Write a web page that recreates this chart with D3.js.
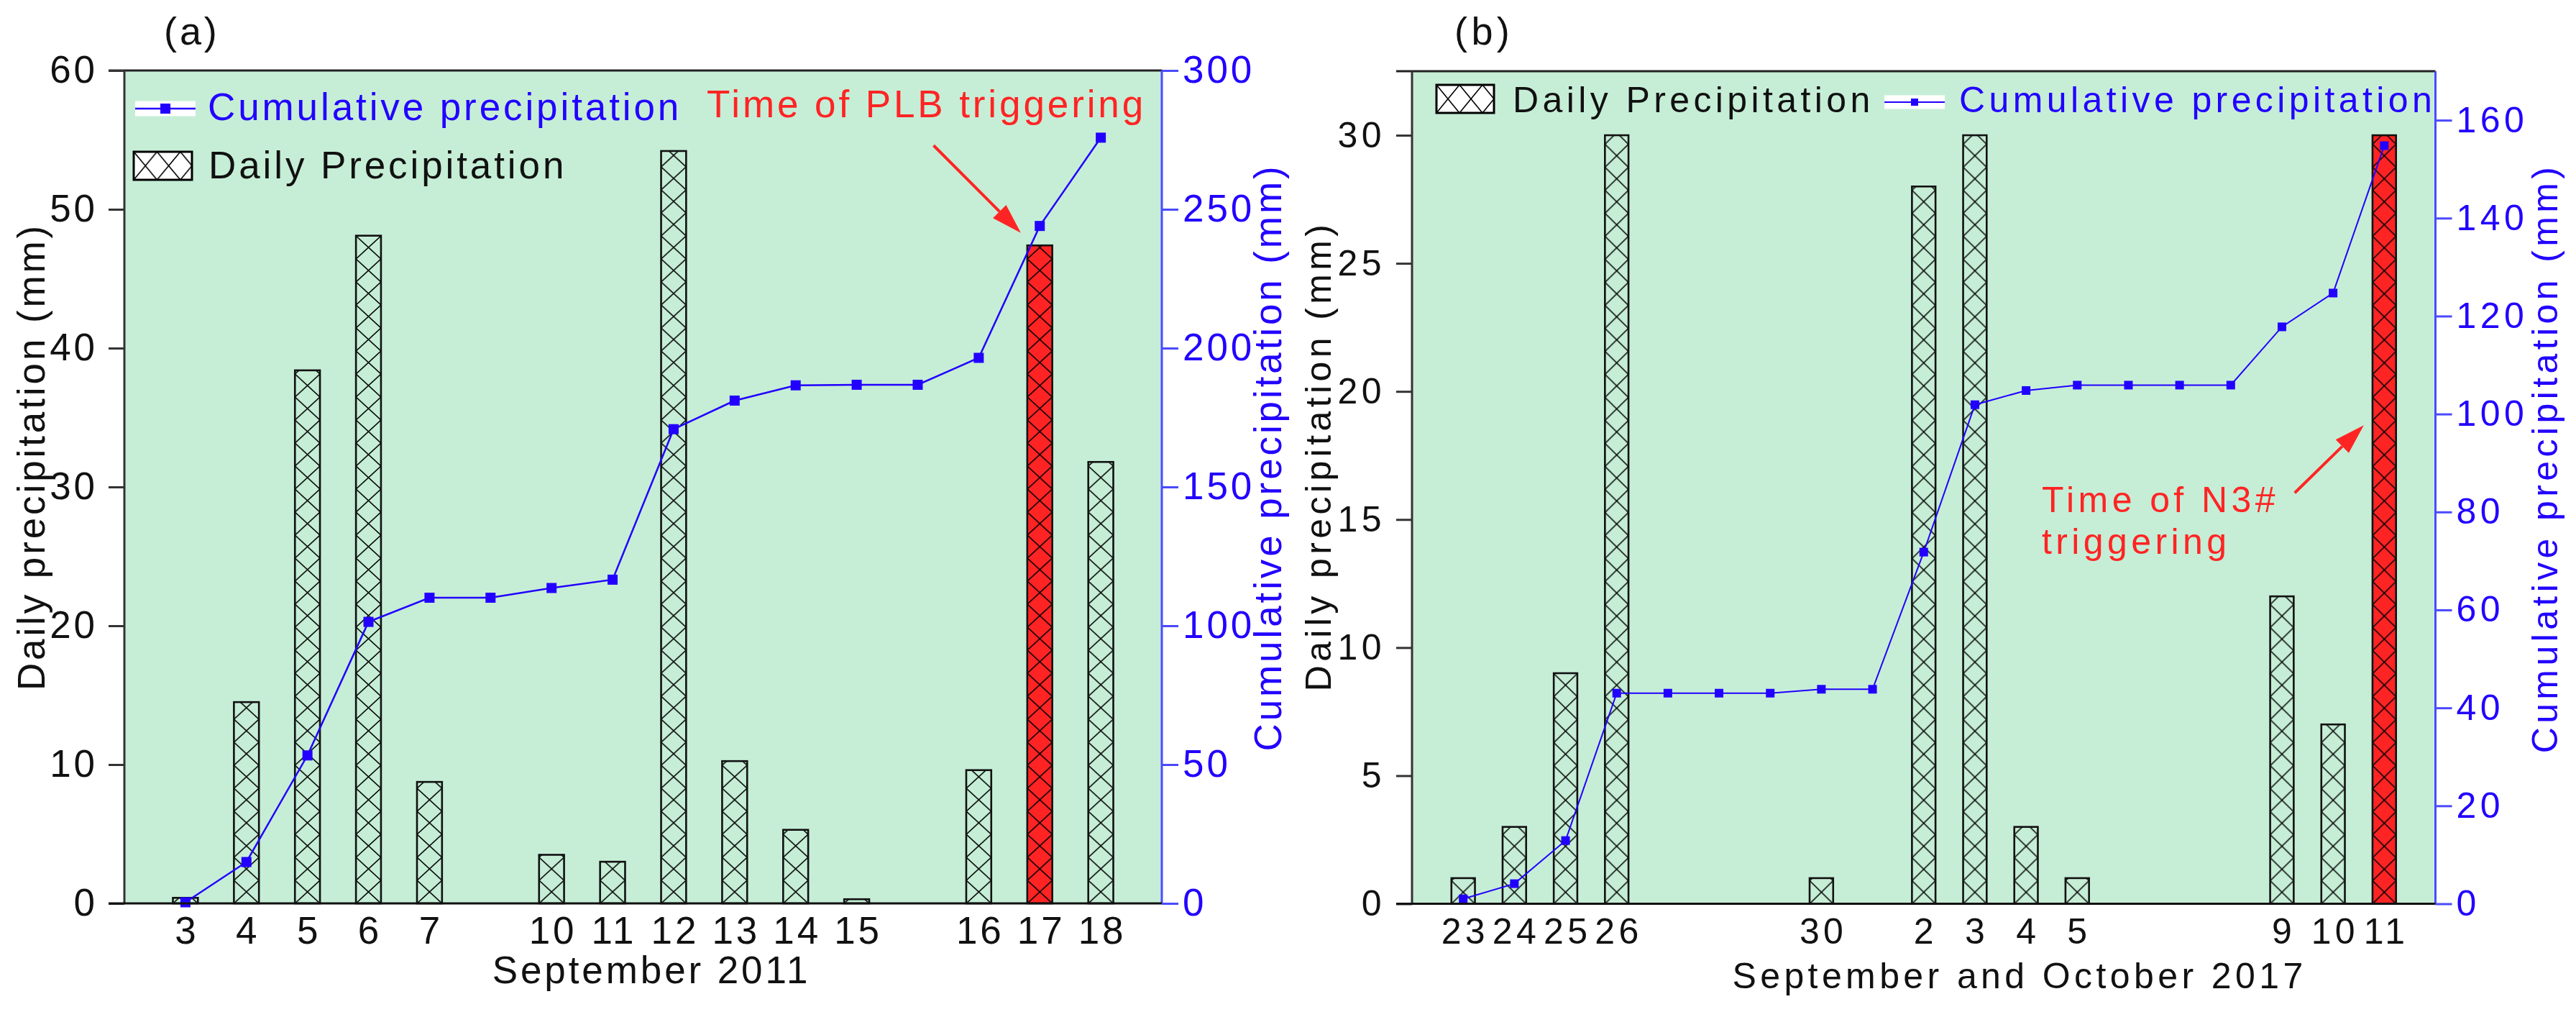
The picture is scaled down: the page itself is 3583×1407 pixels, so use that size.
<!DOCTYPE html>
<html>
<head>
<meta charset="utf-8">
<script src="https://cdn.jsdelivr.net/npm/d3@7"></script>
<style>
  body { margin: 0; background: #fff; }
  text { font-family: "Liberation Sans", Arial, sans-serif; }
</style>
</head>
<body>
<div id="root"></div>
<script>
// ---- data, panel (a): September 2011 ----
const daysA = ["3", "4", "5", "6", "7", "", "10", "11", "12", "13", "14", "15", "", "16", "17", "18"]
const dailyA = [0.4, 14.5, 38.4, 48.1, 8.75, null, 3.5, 3.0, 54.2, 10.25, 5.3, 0.3, null, 9.6, 47.4, 31.8]
const cumA = [0.4, 14.9, 53.3, 101.4, 110.1, 110.1, 113.6, 116.6, 170.8, 181.1, 186.6, 186.8, 186.8, 196.5, 244.0, 275.8]
const leftTicksA = [0, 10, 20, 30, 40, 50, 60]
const rightTicksA = [0, 50, 100, 150, 200, 250, 300]

// ---- data, panel (b): September and October 2017 ----
const daysB = ["23", "24", "25", "26", "", "", "", "30", "", "2", "3", "4", "5", "", "", "", "9", "10", "11"]
const dailyB = [1, 3, 9, 30, null, null, null, 1, null, 28, 30, 3, 1, null, null, null, 12, 7, 30]
const cumB = [1.0, 4.1, 12.9, 43.0, 43.0, 43.0, 43.0, 43.8, 43.8, 71.8, 101.9, 104.8, 105.9, 105.9, 105.9, 105.9, 117.8, 124.7, 154.8]
const leftTicksB = [0, 5, 10, 15, 20, 25, 30]
const rightTicksB = [0, 20, 40, 60, 80, 100, 120, 140, 160]

const W = 3583, H = 1407
const green = "#c6eed6", blue = "#2200ff", red = "#ff2424"

const svg = d3.select("#root").append("svg")
    .attr("width", W)
    .attr("height", H)
const defs = svg.append("defs")

function drawPanel(p) {
    const x = d3.scaleLinear().domain(p.xDomain).range([p.left, p.right])
    const yL = d3.scaleLinear().domain(p.yL).range([p.bottom, p.top])
    const yR = d3.scaleLinear().domain(p.yR).range([p.bottom, p.top])
    const slot = x(1) - x(0)
    const bw = slot * p.barFrac
    const g = svg.append("g")
    const font = p.font + "px"

    // background
    g.append("rect")
        .attr("x", p.left).attr("y", p.top)
        .attr("width", p.right - p.left).attr("height", p.bottom - p.top)
        .attr("fill", green)

    // bars with crosshatch
    const bars = p.daily.map((v, i) => ({i, v})).filter(d => d.v != null)
    const pats = defs.selectAll("pattern.p" + p.id).data(bars).join("pattern")
        .attr("class", "p" + p.id)
        .attr("id", d => "h" + p.id + d.i)
        .attr("patternUnits", "userSpaceOnUse")
        .attr("x", d => x(d.i) - bw / 2)
        .attr("y", p.bottom)
        .attr("width", bw)
        .attr("height", p.cell)
    pats.append("rect").attr("width", bw).attr("height", p.cell)
        .attr("fill", d => d.i == p.hot ? red : green)
    pats.append("path")
        .attr("d", `M0,0L${bw},${p.cell}M${bw},0L0,${p.cell}`)
        .attr("stroke", "#000").attr("stroke-width", 1.6).attr("fill", "none")

    g.selectAll("rect.bar").data(bars).join("rect")
        .attr("class", "bar")
        .attr("x", d => x(d.i) - bw / 2)
        .attr("y", d => yL(d.v))
        .attr("width", bw)
        .attr("height", d => yL(0) - yL(d.v))
        .attr("fill", d => `url(#h${p.id}${d.i})`)
        .attr("stroke", "#111")
        .attr("stroke-width", 2.6)

    // cumulative line
    const line = d3.line().x((d, i) => x(i)).y(d => yR(d))
    g.append("path").datum(p.cum)
        .attr("d", line)
        .attr("fill", "none")
        .attr("stroke", blue)
        .attr("stroke-width", p.lineW)
    g.selectAll("rect.pt").data(p.cum).join("rect")
        .attr("class", "pt")
        .attr("x", (d, i) => x(i) - p.marker / 2)
        .attr("y", d => yR(d) - p.marker / 2)
        .attr("width", p.marker).attr("height", p.marker)
        .attr("fill", blue)

    // frame: top, left, bottom, right(blue)
    g.append("line").attr("x1", p.left - 22).attr("x2", p.right).attr("y1", p.top).attr("y2", p.top)
        .attr("stroke", "#222").attr("stroke-width", 3)
    g.append("line").attr("x1", p.left).attr("x2", p.left).attr("y1", p.top).attr("y2", p.bottom)
        .attr("stroke", "#333").attr("stroke-width", 3)
    g.append("line").attr("x1", p.right).attr("x2", p.right).attr("y1", p.top).attr("y2", p.bottom)
        .attr("stroke", "#4a4aff").attr("stroke-width", 3)

    // left axis
    const la = g.append("g")
        .attr("transform", `translate(${p.left},0)`)
        .call(d3.axisLeft(yL).tickValues(p.leftTicks).tickSize(22).tickPadding(15))
    la.select(".domain").remove()
    la.selectAll(".tick line").attr("stroke", "#333").attr("stroke-width", 3)
    la.selectAll(".tick text")
        .attr("font-size", font).attr("fill", "#111")
        .style("font-family", "Liberation Sans, Arial, sans-serif")
        .style("letter-spacing", p.ls + "px")

    // right axis
    const ra = g.append("g")
        .attr("transform", `translate(${p.right},0)`)
        .call(d3.axisRight(yR).tickValues(p.rightTicks).tickSize(23).tickPadding(6))
    ra.select(".domain").remove()
    ra.selectAll(".tick line").attr("stroke", "#4a4aff").attr("stroke-width", 3)
    ra.selectAll(".tick text")
        .attr("font-size", font).attr("fill", blue)
        .style("font-family", "Liberation Sans, Arial, sans-serif")
        .style("letter-spacing", p.ls + "px")

    // bottom axis (categorical day labels)
    g.append("line").attr("x1", p.left - 22).attr("x2", p.right).attr("y1", p.bottom).attr("y2", p.bottom)
        .attr("stroke", "#111").attr("stroke-width", 3)
    g.selectAll("text.day").data(p.days).join("text")
        .attr("class", "day")
        .attr("x", (d, i) => x(i) + p.ls / 2)
        .attr("y", 1312)
        .attr("text-anchor", "middle")
        .attr("font-size", font)
        .style("letter-spacing", p.ls + "px")
        .attr("fill", "#111")
        .text(d => d)

    // titles
    const t = (txt, tx, ty, col, rot, anchor) => g.append("text")
        .attr("transform", `translate(${tx},${ty})` + (rot ? " rotate(-90)" : ""))
        .attr("text-anchor", anchor || "middle")
        .attr("font-size", font)
        .style("letter-spacing", p.ls + "px")
        .attr("fill", col)
        .text(txt)
    t(p.xTitle, p.xTitleX, p.xTitleY, "#111")
    t("Daily precipitation (mm)", p.yLx, p.yLy, "#111", true)
    t("Cumulative precipitation (mm)", p.yRx, p.yRy, blue, true)
    t(p.tag, p.tagX, 62, "#111", false, "start").attr("font-size", "54px")

    // legend
    const lg = g.append("g")
    p.legend.forEach(L => {
        if (L.type == "line") {
            lg.append("rect").attr("x", L.x).attr("y", L.y - L.h / 2).attr("width", L.w).attr("height", L.h)
                .attr("fill", "#fff")
            lg.append("line").attr("x1", L.x).attr("x2", L.x + L.w).attr("y1", L.y).attr("y2", L.y)
                .attr("stroke", blue).attr("stroke-width", p.lineW)
            lg.append("rect").attr("x", L.x + L.w / 2 - L.m / 2).attr("y", L.y - L.m / 2)
                .attr("width", L.m).attr("height", L.m).attr("fill", blue)
            t("Cumulative precipitation", L.tx, L.ty, blue, false, "start")
        } else {
            defs.append("pattern").attr("id", "leg" + p.id)
                .attr("patternUnits", "userSpaceOnUse")
                .attr("x", L.x).attr("y", L.y)
                .attr("width", L.w / 2.5).attr("height", L.h)
                .call(pt => {
                    pt.append("rect").attr("width", L.w / 2.5).attr("height", L.h).attr("fill", "#fff")
                    pt.append("path").attr("d", `M0,0L${L.w / 2.5},${L.h}M${L.w / 2.5},0L0,${L.h}`)
                        .attr("stroke", "#000").attr("stroke-width", 1.6)
                })
            lg.append("rect").attr("x", L.x).attr("y", L.y).attr("width", L.w).attr("height", L.h)
                .attr("fill", `url(#leg${p.id})`).attr("stroke", "#000").attr("stroke-width", 3)
            t("Daily Precipitation", L.tx, L.ty, "#111", false, "start")
        }
    })

    // annotation
    p.note.lines.forEach((s, k) => t(s, p.note.x, p.note.y + k * p.note.dy, red, false, "start"))
    const x0 = x(p.arrow[0]), y0 = yL(p.arrow[1]), x1 = x(p.arrow[2]), y1 = yL(p.arrow[3])
    const ang = Math.atan2(y1 - y0, x1 - x0), hl = 42, hw = 13
    const bx = x1 - hl * Math.cos(ang), by = y1 - hl * Math.sin(ang)
    g.append("line").attr("x1", x0).attr("y1", y0).attr("x2", bx).attr("y2", by)
        .attr("stroke", red).attr("stroke-width", 4)
    g.append("path")
        .attr("d", `M${x1},${y1}L${bx + hw * Math.sin(ang)},${by - hw * Math.cos(ang)}L${bx - hw * Math.sin(ang)},${by + hw * Math.cos(ang)}Z`)
        .attr("fill", red)
}

drawPanel({
    id: "a", days: daysA, daily: dailyA, cum: cumA, hot: 14,
    leftTicks: leftTicksA, rightTicks: rightTicksA,
    left: 173, right: 1616, top: 98, bottom: 1256,
    xDomain: [-1, 16], yL: [0, 60], yR: [0, 300],
    font: 53, ls: 3.9, barFrac: 0.41, cell: 32, marker: 14, lineW: 2.5,
    xTitle: "September 2011", xTitleX: 906, xTitleY: 1367,
    yLx: 62, yLy: 635, yRx: 1782, yRy: 636,
    tag: "(a)", tagX: 228,
    legend: [
        {type: "line", x: 188, y: 151, w: 84, h: 21, m: 14, tx: 289, ty: 167},
        {type: "box", x: 186, y: 211, w: 81, h: 39, tx: 290, ty: 248}
    ],
    note: {lines: ["Time of PLB triggering"], x: 983, y: 163, dy: 0},
    arrow: [12.26, 54.6, 13.69, 48.3]
})

drawPanel({
    id: "b", days: daysB, daily: dailyB, cum: cumB, hot: 18,
    leftTicks: leftTicksB, rightTicks: rightTicksB,
    left: 1964, right: 3387.5, top: 99, bottom: 1256.5,
    xDomain: [-1, 19], yL: [0, 32.5], yR: [0, 170],
    font: 50, ls: 5.4, barFrac: 0.46, cell: 32, marker: 12, lineW: 2,
    xTitle: "September and October 2017", xTitleX: 2809, xTitleY: 1374,
    yLx: 1851, yLy: 634, yRx: 3557, yRy: 637,
    tag: "(b)", tagX: 2023,
    legend: [
        {type: "box", x: 1998, y: 118, w: 80, h: 39, tx: 2104, ty: 156},
        {type: "line", x: 2621, y: 142, w: 84, h: 19, m: 10, tx: 2725, ty: 156}
    ],
    note: {lines: ["Time of N3#", "triggering"], x: 2840, y: 712, dy: 58},
    arrow: [16.25, 16.04, 17.6, 18.68]
})
</script>
</body>
</html>
